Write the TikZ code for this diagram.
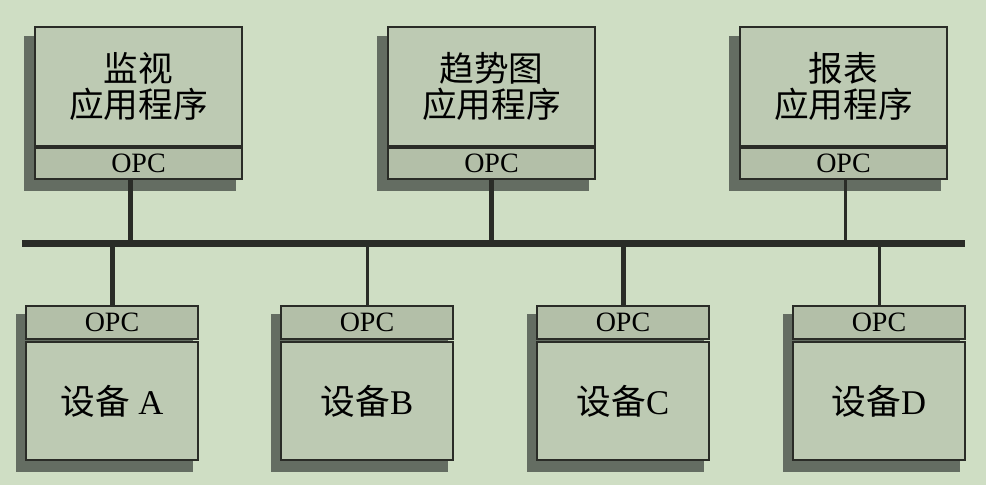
\documentclass[tikz,border=0pt]{standalone}
\usepackage{fontspec}
\setmainfont{Liberation Serif}
\newfontfamily\cjk{Noto Sans CJK SC}
\usetikzlibrary{backgrounds}
\definecolor{bgc}{HTML}{CFDEC4}
\definecolor{boxc}{HTML}{BDCAB3}
\definecolor{opcc}{HTML}{B3BFA8}
\definecolor{shadowc}{HTML}{646D62}
\definecolor{linec}{HTML}{2A2C27}
\begin{document}
\begin{tikzpicture}[x=0.75pt,y=-0.75pt,
	appbox/.style={draw=linec,fill=boxc,line width=1.5pt,inner sep=0pt,anchor=north west,
		minimum width=207*0.75pt,minimum height=119*0.75pt,align=center,
		font=\fontsize{26}{27}\cjk},
	appopc/.style={draw=linec,fill=opcc,line width=1.5pt,inner sep=0pt,anchor=north west,
		minimum width=207*0.75pt,minimum height=31*0.75pt,font=\fontsize{21}{21}\selectfont},
	devopc/.style={draw=linec,fill=opcc,line width=1.5pt,inner sep=0pt,anchor=north west,
		minimum width=172*0.75pt,minimum height=33*0.75pt,font=\fontsize{21}{21}\selectfont},
	devbox/.style={draw=linec,fill=boxc,line width=1.5pt,inner sep=0pt,anchor=north west,
		minimum width=172*0.75pt,minimum height=118*0.75pt,font=\fontsize{26}{27}\selectfont},
	shade/.style={fill=shadowc},
	bus/.style={draw=linec,line width=5.25pt},
	fatstem/.style={draw=linec,line width=3.75pt},
	slimstem/.style={draw=linec,line width=2.25pt}]
	\begin{scope}[on background layer]
		\fill[bgc] (0,0) rectangle (986,485);
	\end{scope}
	\useasboundingbox (0,0) rectangle (986,485);
	\node[appbox] (mon) at (34,26) {监视\\应用程序};
	\node[appopc] (monopc) at (mon.south west) {OPC};
	\node[appbox] (trend) at (387,26) {趋势图\\应用程序};
	\node[appopc] (trendopc) at (trend.south west) {OPC};
	\node[appbox] (rep) at (739,26) {报表\\应用程序};
	\node[appopc] (repopc) at (rep.south west) {OPC};
	\node[devopc] (aopc) at (25,305) {OPC};
	\node[devbox] (deva) at (25,341) {{\cjk 设备} A};
	\node[devopc] (bopc) at (280,305) {OPC};
	\node[devbox] (devb) at (280,341) {{\cjk 设备}B};
	\node[devopc] (copc) at (536,305) {OPC};
	\node[devbox] (devc) at (536,341) {{\cjk 设备}C};
	\node[devopc] (dopc) at (792,305) {OPC};
	\node[devbox] (devd) at (792,341) {{\cjk 设备}D};
	\begin{scope}[on background layer]
		\fill[shade] ([shift={(-10,10)}]mon.north west) rectangle ([shift={(-7,11)}]monopc.south east);
		\fill[shade] ([shift={(-10,10)}]trend.north west) rectangle ([shift={(-7,11)}]trendopc.south east);
		\fill[shade] ([shift={(-10,10)}]rep.north west) rectangle ([shift={(-7,11)}]repopc.south east);
		\fill[shade] ([shift={(-9,9)}]aopc.north west) rectangle ([shift={(-6,11)}]deva.south east);
		\fill[shade] ([shift={(-9,9)}]bopc.north west) rectangle ([shift={(-6,11)}]devb.south east);
		\fill[shade] ([shift={(-9,9)}]copc.north west) rectangle ([shift={(-6,11)}]devc.south east);
		\fill[shade] ([shift={(-9,9)}]dopc.north west) rectangle ([shift={(-6,11)}]devd.south east);
	\end{scope}
	\coordinate (busl) at (22,243);
	\coordinate (busr) at (965,243);
	\draw[fatstem] ([xshift=-8*0.75pt]monopc.south) -- ([xshift=-8*0.75pt]monopc.south |- busl);
	\draw[fatstem] (trendopc.south) -- (trendopc.south |- busl);
	\draw[slimstem] ([xshift=2*0.75pt]repopc.south) -- ([xshift=2*0.75pt]repopc.south |- busl);
	\draw[fatstem] (aopc.north) -- (aopc.north |- busl);
	\draw[slimstem] (bopc.north) -- (bopc.north |- busl);
	\draw[fatstem] (copc.north) -- (copc.north |- busl);
	\draw[slimstem] (dopc.north) -- (dopc.north |- busl);
	\draw[bus] (busl) -- (busr);
\end{tikzpicture}
\end{document}
